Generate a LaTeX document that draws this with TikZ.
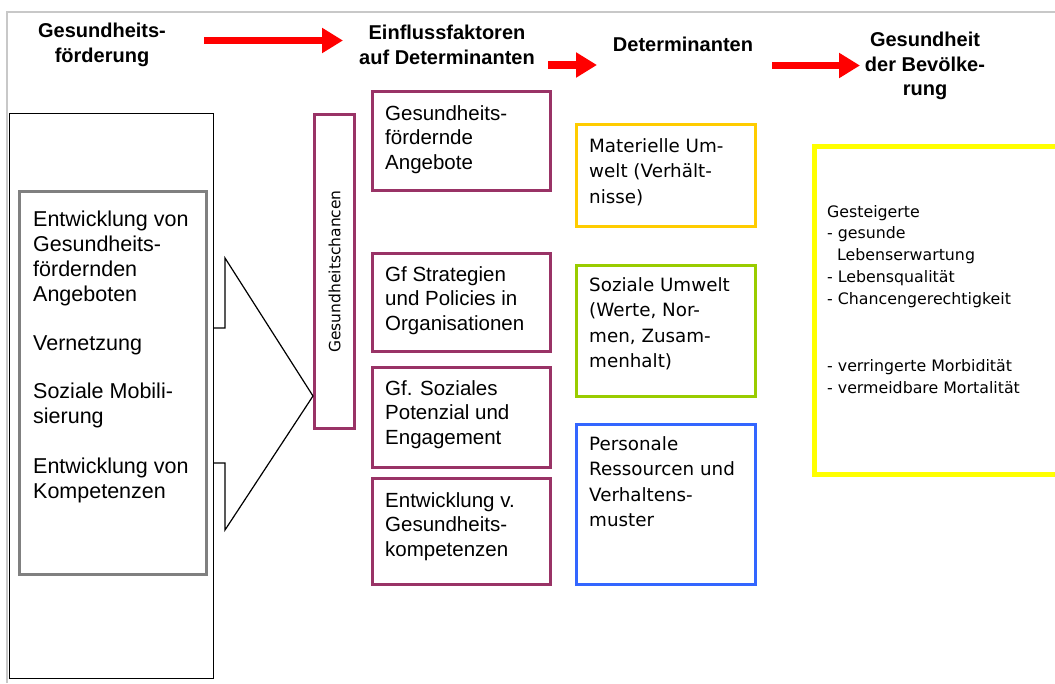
\documentclass[tikz,border=0pt]{standalone}
\usepackage{fontspec}
\setmainfont{Liberation Sans}
\newfontfamily\tahoma{DejaVu Sans}
\usetikzlibrary{arrows.meta}
\definecolor{lila}{RGB}{153,51,102}
\definecolor{orng}{RGB}{255,204,0}
\definecolor{gruen}{RGB}{153,204,0}
\definecolor{blau}{RGB}{51,102,255}
\definecolor{gelb}{RGB}{255,255,0}
\definecolor{rahmen}{RGB}{200,200,200}
\begin{document}
\begin{tikzpicture}[x=1pt,y=-1pt,
  box/.style={draw, line width=3pt, inner sep=0pt, anchor=north west},
  txt/.style={inner sep=0pt, anchor=north west, align=left},
  arial/.style={font=\fontsize{20.5pt}{24.5pt}\selectfont},
  klein/.style={font=\tahoma\fontsize{18.3pt}{25.5pt}\selectfont},
  kopf/.style={inner sep=0pt, align=center, font=\bfseries\fontsize{20pt}{24.5pt}\selectfont},
  rot/.style={draw=red, line width=7.5pt, -{Triangle[length=21pt,width=24pt]}}]
\useasboundingbox (0,0) rectangle (1055,683);
\draw[rahmen, line width=1.5pt] (7,683) -- (7,12) -- (1055,12);

\node[kopf] (foerderung) at (102,45) {Gesundheits-\\förderung};
\node[kopf] (einfluss) at (447,45) {Einflussfaktoren\\auf Determinanten};
\node[kopf] (determ) at (683,44) {Determinanten};
\node[kopf] (bevoelk) at (925,66) {Gesundheit\\der Bevölke-\\rung};
\coordinate (p1a) at (204,40.5); \coordinate (p1b) at (343,40.5);
\coordinate (p2a) at (548,65);   \coordinate (p2b) at (597,65);
\coordinate (p3a) at (772,65.5); \coordinate (p3b) at (860,65.5);
\draw[rot] (p1a) -- (p1b);
\draw[rot] (p2a) -- (p2b);
\draw[rot] (p3a) -- (p3b);

\node[box, draw=black, line width=1.3pt, minimum width=204pt, minimum height=565pt] (aussen) at (9,113) {};
\node[box, draw=gray, minimum width=187pt, minimum height=383pt] (grau) at (18,190) {};
\node[txt, font=\fontsize{21.5pt}{25pt}\selectfont] (massnahmen) at (33,211)
  {Entwicklung von\\Gesundheits-\\fördernden\\Angeboten\\[24pt]Vernetzung\\[23pt]Soziale Mobili-\\sierung\\[25pt]Entwicklung von\\Kompetenzen};

\node[box, draw=lila, minimum width=40pt, minimum height=314pt] (chancen) at (313,113) {};
\node[rotate=90, font=\tahoma\fontsize{15.5pt}{18pt}\selectfont] (chtext) at (chancen.center) {Gesundheitschancen};
\coordinate (spitze) at (chancen.west |- 0,396);
\draw[line width=1.2pt] (213,328) -- (225,328) -- (225,258) -- (spitze) -- (225,530) -- (225,463) -- (213,463);

\node[box, draw=lila, minimum width=178pt, minimum height=99pt]  (angebote)   at (371,90) {};
\node[box, draw=lila, minimum width=178pt, minimum height=98pt]  (strategien) at (371,252) {};
\node[box, draw=lila, minimum width=178pt, minimum height=100pt] (potenzial)  at (371,366) {};
\node[box, draw=lila, minimum width=178pt, minimum height=106pt] (kompetenz)  at (371,477) {};
\node[txt, arial] at ([shift={(14,15)}]angebote.north west) {Gesundheits-\\fördernde\\Angebote};
\node[txt, arial] at ([shift={(14,14)}]strategien.north west) {Gf Strategien\\und Policies in\\Organisationen};
\node[txt, arial] at ([shift={(14,14)}]potenzial.north west) {Gf. Soziales\\Potenzial und\\Engagement};
\node[txt, arial] at ([shift={(14,15)}]kompetenz.north west) {Entwicklung v.\\Gesundheits-\\kompetenzen};

\node[box, draw=orng,  minimum width=179pt, minimum height=102pt] (materiell) at (575,123) {};
\node[box, draw=gruen, minimum width=179pt, minimum height=131pt] (sozial)    at (575,264) {};
\node[box, draw=blau,  minimum width=179pt, minimum height=160pt] (personal)  at (575,423) {};
\node[txt, klein] at ([shift={(14,15)}]materiell.north west) {Materielle Um-\\welt (Verhält-\\nisse)};
\node[txt, klein] at ([shift={(14,13)}]sozial.north west) {Soziale Umwelt\\(Werte, Nor-\\men, Zusam-\\menhalt)};
\node[txt, klein] at ([shift={(14,13)}]personal.north west) {Personale\\Ressourcen und\\Verhaltens-\\muster};

\node[box, draw=gelb, line width=5pt, minimum width=260pt, minimum height=328pt] (wirkung) at (812,144) {};
\node[txt, font=\tahoma\fontsize{15.8pt}{21.7pt}\selectfont] (ziele) at (827,205)
  {Gesteigerte\\- gesunde\\\hspace*{10pt}Lebenserwartung\\- Lebensqualität\\- Chancengerechtigkeit\\[46pt]- verringerte Morbidität\\- vermeidbare Mortalität};
\end{tikzpicture}
\end{document}
